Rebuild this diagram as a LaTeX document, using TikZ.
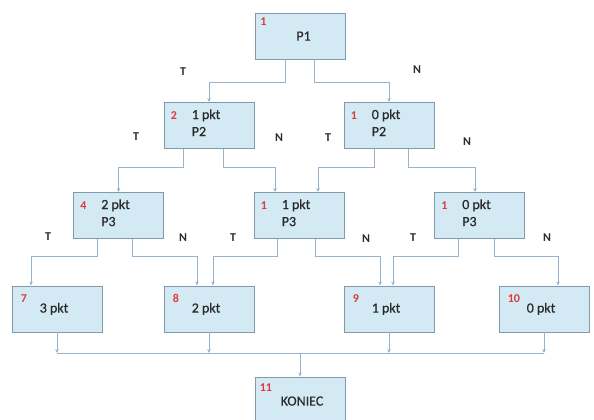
\documentclass[tikz,border=0pt]{standalone}
\usepackage{fontspec}
\setmainfont{Carlito}
\newfontfamily\boxfont[FakeBold=0.5]{Carlito}
\usetikzlibrary{arrows.meta}
\definecolor{boxfill}{HTML}{D3EAF4}
\definecolor{boxline}{HTML}{8199A9}
\definecolor{wirecol}{HTML}{98B1CC}
\definecolor{numred}{HTML}{E2383C}
\definecolor{txt}{HTML}{2A2A2A}

% question box: name, x, y, number, points, question
\newcommand{\qbox}[6]{%
  \node[stepbox] (#1) at (#2,#3) {};
  \node[num] (#1-n) at ([shift={(7,17)}]#1.north west) {#4};
  \node[lbl] (#1-a) at ([shift={(28,17)}]#1.north west) {#5};
  \node[lbl] (#1-b) at ([shift={(28,34)}]#1.north west) {#6};
}
% result box: name, x, y, number, points
\newcommand{\rbox}[5]{%
  \node[stepbox] (#1) at (#2,#3) {};
  \node[num] (#1-n) at ([shift={(9,17)}]#1.north west) {#4};
  \node[lbl] (#1-a) at ([shift={(28,27)}]#1.north west) {#5};
}

\begin{document}
\begin{tikzpicture}[x=1pt,y=-1pt,
  stepbox/.style={draw=boxline, fill=boxfill, line width=0.9pt,
    minimum width=90pt, minimum height=46pt, inner sep=0pt},
  num/.style={anchor=base west, inner sep=0pt, text=numred,
    font=\fontsize{12}{12}\selectfont\bfseries},
  lbl/.style={anchor=base west, inner sep=0pt, text=txt,
    font=\boxfont\fontsize{14}{17}\selectfont},
  branch/.style={inner sep=0pt, text=txt,
    font=\fontsize{12}{12}\selectfont\bfseries},
  wire/.style={draw=wirecol, line width=0.9pt},
  conn/.style={wire, -{Stealth[length=4pt,width=3.5pt]}}]
\useasboundingbox (0,0) rectangle (594,420);

% top question
\node[stepbox] (b1) at (300.5,36) {};
\node[num] (b1-n) at ([shift={(5,13)}]b1.north west) {1};
\node[lbl, anchor=base] (b1-a) at ([shift={(3,28)}]b1.north) {P1};

% second and third levels
\qbox{b2}{209}{125.5}{2}{1 pkt}{P2}
\qbox{b3}{389}{125.5}{1}{0 pkt}{P2}
\qbox{b4}{118.5}{215.5}{4}{2 pkt}{P3}
\qbox{b5}{299}{215.5}{1}{1 pkt}{P3}
\qbox{b6}{479.5}{215.5}{1}{0 pkt}{P3}

% results
\rbox{b7}{57}{309}{7}{3 pkt}
\rbox{b8}{209}{309}{8}{2 pkt}
\rbox{b9}{389}{309}{9}{1 pkt}
\rbox{b10}{544}{309}{10}{0 pkt}

% end
\node[stepbox, minimum height=44pt] (b11) at (300,399) {};
\node[num] (b11-n) at ([shift={(5,15)}]b11.north west) {11};
\node[lbl] (b11-a) at ([shift={(26,29)}]b11.north west) {KONIEC};

% branches
\draw[conn] ([xshift=-15.5pt]b1.south) -- ++(0,23) -| (b2.north);
\draw[conn] ([xshift=13.5pt]b1.south) -- ++(0,23) -| (b3.north);

\draw[conn] ([xshift=-26pt]b2.south) -- ++(0,18) -| (b4.north);
\draw[conn] ([xshift=14pt]b2.south) -- ++(0,18) -| ([xshift=-24pt]b5.north);
\draw[conn] ([xshift=-15pt]b3.south) -- ++(0,18) -| ([xshift=19pt]b5.north);
\draw[conn] ([xshift=19pt]b3.south) -- ++(0,18) -| ([xshift=-4.5pt]b6.north);

\draw[conn] ([xshift=-21.5pt]b4.south) -- ++(0,17) -| ([xshift=-26pt]b7.north);
\draw[conn] ([xshift=13.5pt]b4.south) -- ++(0,17) -| ([xshift=-12pt]b8.north);
\draw[conn] ([xshift=-22pt]b5.south) -- ++(0,17) -| ([xshift=4pt]b8.north);
\draw[conn] ([xshift=16pt]b5.south) -- ++(0,17) -| ([xshift=-9pt]b9.north);
\draw[conn] ([xshift=-21.5pt]b6.south) -- ++(0,17) -| ([xshift=4pt]b9.north);
\draw[conn] ([xshift=14.5pt]b6.south) -- ++(0,17) -| ([xshift=14pt]b10.north);

% collecting line
\coordinate (bus) at (300,353);
\draw[wire] (b7.south |- bus) -- (b10.south |- bus);
\draw[conn] (b7.south) -- (b7.south |- bus);
\draw[conn] (b8.south) -- (b8.south |- bus);
\draw[conn] (b9.south) -- (b9.south |- bus);
\draw[conn] (b10.south) -- (b10.south |- bus);
\draw[conn] (bus) -- (b11.north);

% branch labels
\node[branch] (t1) at (183,72) {T};
\node[branch] (n1) at (417,70) {N};
\node[branch] (t2) at (136,137) {T};
\node[branch] (n2) at (279,138) {N};
\node[branch] (t3) at (328,138) {T};
\node[branch] (n3) at (467,142) {N};
\node[branch] (t4) at (48,237) {T};
\node[branch] (n4) at (183,238) {N};
\node[branch] (t5) at (233,238) {T};
\node[branch] (n5) at (366,239) {N};
\node[branch] (t6) at (413,238) {T};
\node[branch] (n6) at (547,238) {N};
\end{tikzpicture}
\end{document}
